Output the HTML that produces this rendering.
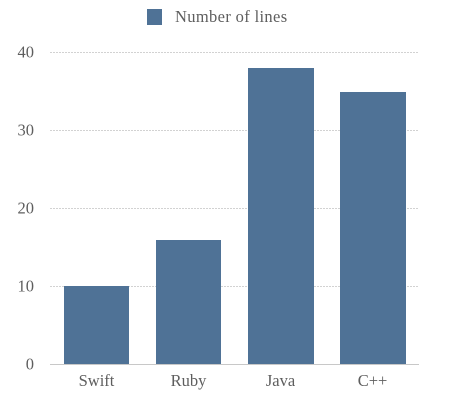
<!DOCTYPE html>
<html>
<head>
<meta charset="utf-8">
<style>
html,body{margin:0;padding:0;background:#fff;}
svg{display:block;font-family:"Liberation Serif",serif;}
</style>
</head>
<body>
<svg id="chart" width="463" height="413" viewBox="0 0 463 413" xmlns="http://www.w3.org/2000/svg">
<rect x="147" y="9" width="15" height="16" fill="#4f7296"/>
<text x="175" y="22" font-size="16.5" letter-spacing="0.35" fill="#5e5e5e">Number of lines</text>
</svg>
<script>
const categories = ['Swift', 'Ruby', 'Java', 'C++'];
const seriesValues = [10, 16, 38, 35];
const tickLabels = [0, 10, 20, 30, 40];
const yMax = 40;

const svg = document.getElementById('chart');
const NS = 'http://www.w3.org/2000/svg';
const left = 50, right = 419, plotTop = 52.8, bottom = 364;
const band = 92;
function yScale(v) { return bottom - (v / yMax) * (bottom - plotTop); }
function xLeft(i) { return 64 + i * band; }
function xRight(i) { return Math.round(129.3 + i * 92.1); }
function make(tag, attrs) {
  const el = document.createElementNS(NS, tag);
  for (const k in attrs) el.setAttribute(k, attrs[k]);
  svg.appendChild(el);
  return el;
}
tickLabels.forEach(function (t) {
  const y = Math.floor(yScale(t));
  if (t !== 0) {
    const g = make('line', {x1: left, x2: right, y1: y + 0.5, y2: y + 0.5, stroke: '#d2d2d2', 'stroke-width': 1, 'stroke-dasharray': '2 1'});
    
    
  }
  const l = make('text', {x: 34, y: y + 5.5, 'text-anchor': 'end', 'font-size': 16.5, fill: '#5e5e5e'});
  l.textContent = t;
  
  
});
seriesValues.forEach(function (v, i) {
  const y = Math.round(yScale(v));
  const b = make('rect', {x: xLeft(i), y: y, width: xRight(i) - xLeft(i), height: bottom - y, fill: '#4f7296'});
  
  
  const l = make('text', {x: xLeft(i) + 32.5, y: 386, 'text-anchor': 'middle', 'font-size': 16.5, fill: '#5e5e5e'});
  l.textContent = categories[i];
  
  
});
const axis = make('line', {x1: left, x2: right, y1: bottom + 0.5, y2: bottom + 0.5, stroke: '#c8c8c8', 'stroke-width': 1});


</script>
</body>
</html>
